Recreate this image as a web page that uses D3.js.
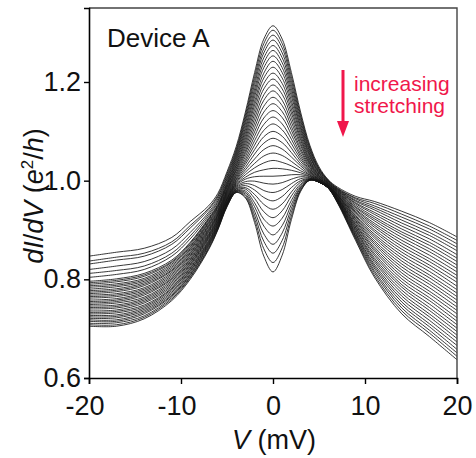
<!DOCTYPE html>
<html><head><meta charset="utf-8">
<script src="https://cdn.jsdelivr.net/npm/d3@7"></script>
<style>html,body{margin:0;padding:0;background:#fff;} svg{display:block;font-family:"Liberation Sans",Arial,sans-serif;}</style>
</head><body>
<svg id="chart" width="476" height="458"></svg>
<script>
// Bias voltage grid (mV)
const voltages = [-20,-17,-14,-11,-9,-7,-6,-5,-4,-3,-2,-1,0,1,2,3,4,5,6,7,9,11,14,17,20];
// dI/dV (e^2/h), one row per stretching step (top = least stretched)
const curves = [
[.847,.855,.863,.885,.917,.949,.974,1.018,1.069,1.139,1.219,1.287,1.314,1.287,1.219,1.139,1.072,1.028,1.002,.987,.968,.958,.938,.915,.886],
[.837,.845,.853,.876,.909,.944,.970,1.014,1.064,1.133,1.211,1.278,1.305,1.278,1.211,1.133,1.068,1.025,1.001,.985,.965,.954,.932,.908,.879],
[.831,.839,.847,.871,.904,.941,.967,1.010,1.060,1.127,1.203,1.268,1.295,1.269,1.203,1.128,1.065,1.024,1.000,.984,.963,.949,.926,.902,.872],
[.820,.827,.836,.861,.895,.936,.963,1.006,1.056,1.121,1.195,1.259,1.285,1.259,1.195,1.122,1.061,1.022,.999,.983,.960,.945,.920,.895,.865],
[.812,.818,.827,.853,.888,.932,.959,1.003,1.052,1.115,1.186,1.249,1.274,1.249,1.187,1.116,1.058,1.020,.998,.982,.958,.941,.914,.889,.858],
[.804,.810,.820,.847,.882,.928,.956,.999,1.048,1.108,1.178,1.239,1.264,1.239,1.179,1.110,1.054,1.018,.997,.981,.955,.936,.908,.882,.850],
[.796,.801,.812,.839,.875,.924,.952,.996,1.044,1.102,1.170,1.229,1.253,1.229,1.171,1.105,1.051,1.016,.996,.980,.953,.932,.902,.875,.843],
[.793,.798,.809,.836,.873,.922,.950,.993,1.040,1.096,1.161,1.218,1.242,1.219,1.162,1.099,1.048,1.015,.995,.979,.950,.927,.896,.869,.836],
[.790,.795,.806,.834,.870,.920,.948,.991,1.036,1.090,1.153,1.208,1.230,1.208,1.154,1.093,1.044,1.013,.994,.978,.947,.923,.891,.862,.829],
[.787,.791,.802,.831,.867,.917,.946,.988,1.032,1.084,1.144,1.197,1.218,1.197,1.145,1.087,1.041,1.011,.994,.977,.945,.919,.885,.856,.822],
[.784,.788,.799,.828,.865,.915,.944,.986,1.029,1.078,1.135,1.186,1.206,1.186,1.137,1.082,1.038,1.010,.993,.976,.942,.914,.879,.849,.815],
[.780,.785,.796,.825,.862,.913,.941,.983,1.025,1.072,1.126,1.174,1.194,1.175,1.128,1.076,1.035,1.009,.992,.975,.940,.910,.873,.842,.808],
[.777,.781,.793,.822,.860,.910,.939,.981,1.022,1.066,1.117,1.163,1.182,1.163,1.119,1.071,1.033,1.007,.991,.974,.937,.906,.867,.836,.801],
[.774,.778,.790,.819,.857,.908,.937,.979,1.019,1.060,1.108,1.151,1.169,1.152,1.110,1.065,1.030,1.006,.991,.973,.935,.901,.861,.829,.794],
[.771,.775,.787,.817,.854,.906,.935,.977,1.015,1.055,1.099,1.139,1.156,1.140,1.102,1.060,1.027,1.005,.990,.972,.932,.897,.855,.823,.786],
[.768,.771,.783,.814,.852,.903,.933,.975,1.012,1.049,1.090,1.127,1.142,1.128,1.093,1.054,1.025,1.004,.990,.971,.929,.892,.849,.816,.779],
[.765,.768,.780,.811,.849,.901,.931,.973,1.009,1.043,1.081,1.114,1.129,1.115,1.084,1.049,1.022,1.003,.989,.971,.927,.888,.843,.809,.772],
[.762,.765,.777,.808,.847,.899,.930,.971,1.006,1.038,1.072,1.102,1.115,1.103,1.075,1.044,1.020,1.002,.989,.970,.924,.884,.837,.803,.765],
[.758,.761,.774,.805,.844,.897,.928,.969,1.003,1.033,1.063,1.089,1.100,1.090,1.066,1.039,1.018,1.001,.988,.969,.922,.879,.831,.796,.758],
[.755,.758,.771,.802,.841,.895,.926,.967,1.001,1.027,1.054,1.076,1.086,1.077,1.057,1.034,1.016,1.001,.988,.968,.919,.875,.825,.790,.751],
[.752,.755,.768,.800,.839,.892,.924,.965,.998,1.022,1.044,1.063,1.071,1.064,1.048,1.030,1.014,1.000,.988,.967,.917,.871,.819,.783,.744],
[.749,.752,.764,.797,.836,.890,.922,.964,.996,1.017,1.035,1.050,1.056,1.051,1.039,1.025,1.012,.999,.987,.966,.914,.866,.813,.776,.737],
[.746,.748,.761,.794,.834,.888,.921,.962,.994,1.012,1.026,1.036,1.041,1.037,1.030,1.020,1.011,.999,.987,.965,.911,.862,.807,.770,.730],
[.743,.745,.758,.791,.831,.886,.919,.961,.992,1.007,1.017,1.022,1.025,1.024,1.021,1.016,1.009,.998,.987,.965,.909,.858,.801,.763,.722],
[.740,.742,.755,.788,.829,.884,.917,.959,.990,1.003,1.008,1.009,1.009,1.010,1.012,1.012,1.008,.998,.987,.964,.906,.853,.795,.757,.715],
[.736,.738,.752,.785,.826,.882,.916,.958,.988,.998,.999,.995,.993,.996,1.003,1.008,1.006,.998,.986,.963,.904,.849,.789,.750,.708],
[.733,.735,.748,.782,.823,.879,.914,.956,.986,.994,.990,.980,.976,.982,.994,1.004,1.005,.997,.986,.962,.901,.844,.784,.743,.701],
[.730,.732,.745,.780,.821,.877,.912,.955,.984,.990,.981,.966,.959,.968,.986,1.000,1.004,.997,.986,.961,.899,.840,.778,.737,.694],
[.727,.728,.742,.777,.818,.875,.911,.954,.983,.986,.972,.952,.942,.953,.977,.997,1.003,.997,.986,.961,.896,.836,.772,.730,.687],
[.724,.725,.739,.774,.816,.873,.909,.953,.981,.983,.964,.937,.925,.939,.969,.993,1.003,.997,.985,.960,.893,.831,.766,.724,.680],
[.721,.722,.736,.771,.813,.871,.907,.952,.980,.979,.955,.922,.908,.924,.960,.990,1.002,.997,.985,.959,.891,.827,.760,.717,.673],
[.718,.718,.733,.768,.810,.869,.906,.951,.979,.976,.947,.908,.890,.909,.952,.987,1.002,.997,.985,.958,.888,.823,.754,.710,.666],
[.715,.715,.730,.766,.808,.867,.904,.950,.978,.973,.938,.892,.871,.894,.944,.985,1.001,.997,.985,.957,.886,.818,.748,.704,.658],
[.711,.712,.726,.763,.805,.864,.903,.949,.977,.970,.930,.877,.853,.879,.936,.982,1.001,.997,.985,.957,.883,.814,.742,.697,.651],
[.708,.708,.723,.760,.803,.862,.901,.948,.976,.967,.922,.862,.834,.864,.928,.980,1.001,.997,.985,.956,.881,.809,.736,.691,.644],
[.705,.705,.720,.757,.800,.860,.900,.947,.976,.965,.915,.847,.815,.849,.921,.978,1.001,.997,.985,.955,.878,.805,.730,.684,.637]
];
const xMajor = [-20,-10,0,10,20];
const xMinor = [-15,-5,5,15];
const yMajor = [0.6,0.8,1.0,1.2];
const yMinor = [0.7,0.9,1.1,1.3];
const xDomain = [-20,20];
const yDomain = [0.6,1.35];
const titleText = "Device A";
const annotLines = ["increasing","stretching"];

const svg = d3.select("#chart");
svg.append("rect").attr("width",476).attr("height",458).attr("fill","#fff");
const L=89, R=457, T=8, B=378;
const x = d3.scaleLinear().domain(xDomain).range([L,R]);
const y = d3.scaleLinear().domain(yDomain).range([B,T]);

svg.append("clipPath").attr("id","clip").append("rect")
  .attr("x",L).attr("y",T).attr("width",R-L).attr("height",B-T);

const line = d3.line()
  .x((d,i)=>x(voltages[i]))
  .y(d=>y(d))
  .curve(d3.curveCatmullRom.alpha(0.5));

svg.append("g").attr("clip-path","url(#clip)")
  .selectAll("path").data(curves).join("path")
  .attr("d",line).attr("fill","none")
  .attr("stroke","#151515").attr("stroke-width",0.85);

// frame (top, right)
svg.append("path").attr("d",`M${L},${T}H${R}V${B}`)
  .attr("fill","none").attr("stroke","#444").attr("stroke-width",1.4);

const fs = 27;
// x axis
const gx = svg.append("g").attr("transform",`translate(0,${B})`);
gx.call(d3.axisBottom(x).tickValues(xMinor).tickSize(6).tickFormat(""));
gx.call(d3.axisBottom(x).tickValues(xMajor).tickSize(6).tickPadding(12).tickFormat(d=>String(d)));
gx.selectAll(".domain").attr("stroke","#000").attr("stroke-width",1.6);
gx.selectAll(".tick line").attr("stroke","#000").attr("stroke-width",1.4);
gx.selectAll(".tick text").attr("font-size",fs).attr("fill","#111")
  .attr("font-family","'Liberation Sans',Arial,sans-serif")
  .attr("dx",d=>d<0?-4.5:0);

// y axis
const gy = svg.append("g").attr("transform",`translate(${L},0)`);
gy.call(d3.axisLeft(y).tickValues(yMinor).tickSize(5).tickFormat(""));
gy.call(d3.axisLeft(y).tickValues(yMajor).tickSize(5).tickPadding(3).tickFormat(d3.format(".1f")));
gy.selectAll(".domain").attr("stroke","#000").attr("stroke-width",1.6);
gy.selectAll(".tick line").attr("stroke","#000").attr("stroke-width",1.4);
gy.selectAll(".tick text").attr("font-size",fs).attr("fill","#111")
  .attr("font-family","'Liberation Sans',Arial,sans-serif");

// axis titles
const xl = svg.append("text").attr("x",274).attr("y",449).attr("text-anchor","middle")
  .attr("font-size",fs).attr("fill","#111");
xl.append("tspan").attr("font-style","italic").text("V");
xl.append("tspan").text(" (mV)");

const yl = svg.append("text").attr("transform","translate(43,196) rotate(-90)")
  .attr("text-anchor","middle").attr("font-size",fs).attr("fill","#111");
yl.append("tspan").attr("font-style","italic").text("dI");
yl.append("tspan").text("/");
yl.append("tspan").attr("font-style","italic").text("dV");
yl.append("tspan").text(" (");
yl.append("tspan").attr("font-style","italic").text("e");
yl.append("tspan").attr("font-size",17).attr("dy",-10).text("2");
yl.append("tspan").attr("dy",10).text("/");
yl.append("tspan").attr("font-style","italic").text("h");
yl.append("tspan").text(")");

// title
svg.append("text").attr("x",107).attr("y",47).attr("font-size",26).attr("fill","#111").text(titleText);

// annotation
const red = "#f0174b";
svg.append("line").attr("x1",343).attr("x2",343).attr("y1",70).attr("y2",126)
  .attr("stroke",red).attr("stroke-width",3);
svg.append("path").attr("d","M337,121L349,121L343,137Z").attr("fill",red);
svg.append("g").selectAll("text").data(annotLines).join("text")
  .attr("x",354).attr("y",(d,i)=>91+i*22).attr("font-size",21).attr("fill",red).text(d=>d);
</script>
</body></html>
